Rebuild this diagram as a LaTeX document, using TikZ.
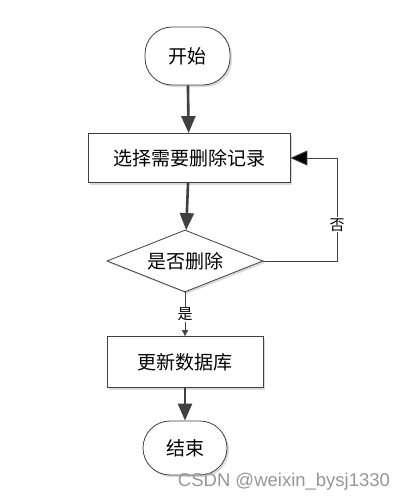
\documentclass[tikz,border=0pt]{standalone}
\usepackage{fontspec}
\setmainfont{Liberation Sans}
\newfontfamily\cjk{Noto Sans CJK SC}
\usetikzlibrary{arrows.meta,shapes.geometric,shadows}
\definecolor{FlowLine}{RGB}{64,64,64}
\definecolor{FlowShadow}{RGB}{218,218,218}
\definecolor{FlowMark}{RGB}{150,150,150}

\begin{document}
\begin{tikzpicture}[x=1pt,y=-1pt,font=\cjk\fontsize{19}{22}\selectfont,
   box/.style n args={2}{draw=FlowLine,line width=0.8pt,fill=white,minimum width=#1pt,minimum height=#2pt,inner sep=0pt,
      drop shadow={shadow xshift=2pt,shadow yshift=-2pt,fill=FlowShadow,opacity=1}},
   term/.style={rounded corners=27pt},
   choice/.style={diamond,aspect=2.5},
   flow/.style={draw=FlowLine,line width=2.6pt,-{Triangle[length=17pt,width=14pt]}},
   back/.style={draw=FlowLine,line width=0.9pt,-{Triangle[length=17pt,width=15pt,fill=black]}},
   yes/.style={draw=FlowLine,line width=0.9pt,-{Triangle[length=6pt,width=6pt]}},
   lbl/.style={fill=white,inner sep=1pt,font=\cjk\fontsize{15}{17}\selectfont}]
\useasboundingbox (0,0) rectangle (409,503);
   \node[box={85}{58},term](start) at (187.5,56) {开始};
   \node[box={202}{49}](select) at (189,158) {选择需要删除记录};
   \node[box={156}{62},choice](check) at (185,261) {是否删除};
   \node[box={156}{51}](update) at (185,362) {更新数据库};
   \node[box={84}{54},term](stop) at (185,448) {结束};
   \coordinate (turn) at (337,158);
   \draw[flow] (start) -- (select);
   \draw[flow] (select) -- (check);
   \draw[back] (check.east) -| node[lbl,pos=0.675]{否} (turn) -- (select.east);
   \draw[yes] (check) -- node[lbl]{是} (update);
   \draw[flow] (update) -- (stop);
   \node[text=FlowMark,font=\fontsize{18.5}{21}\selectfont](mark) at (284,482) {CSDN @weixin\_bysj1330};
\end{tikzpicture}
\end{document}
